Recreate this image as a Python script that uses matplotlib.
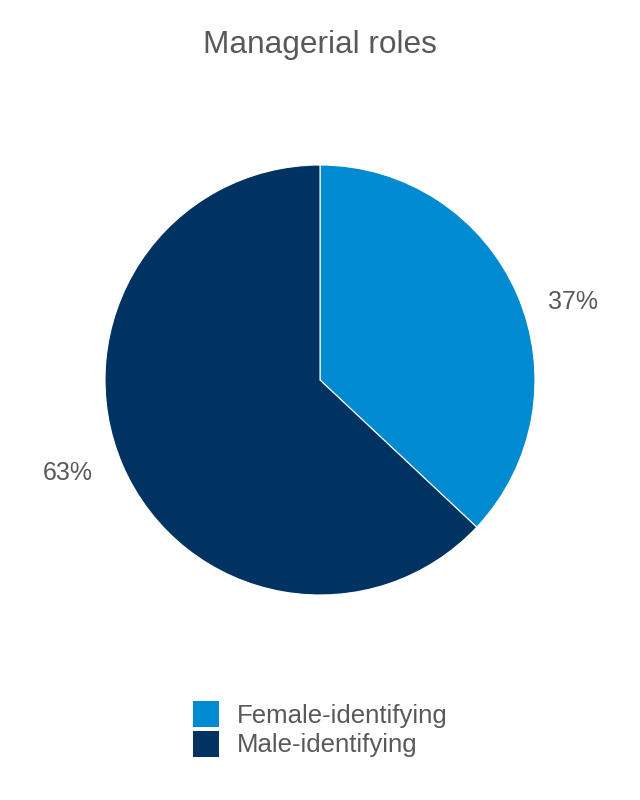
import numpy as np
import matplotlib
matplotlib.use("Agg")
import matplotlib.pyplot as plt
from matplotlib.patches import Patch

categories = ["Female-identifying", "Male-identifying"]
values = [37, 63]
colors = ["#008AD2", "#003361"]
title = "Managerial roles"

plt.rcParams['font.family'] = ['Liberation Sans', 'DejaVu Sans']
text_color = "#595959"

# label placement tweaks (angle offset in degrees, radial distance)
label_angle_offset = [-6.3, -3.2]
label_dist = [1.231, 1.25]

fig = plt.figure(figsize=(6.4, 8), dpi=100)
fig.patch.set_facecolor("white")
ax = fig.add_axes([105/640, 205/800, 430/640, 430/800])
wedges, texts = ax.pie(values, colors=colors, startangle=90, counterclock=False,
                       wedgeprops=dict(linewidth=0.8, edgecolor="white"), radius=1)
total = sum(values)
for w, v, off, d in zip(wedges, values, label_angle_offset, label_dist):
    mid = np.deg2rad((w.theta1 + w.theta2) / 2 + off)
    ax.text(d * np.cos(mid), d * np.sin(mid), f"{100 * v / total:.0f}%",
            ha="center", va="center", fontsize=18, color=text_color)
ax.set_xlim(-1, 1)
ax.set_ylim(-1, 1)
ax.set_aspect("equal")
ax.axis("off")

fig.text(0.5, 1 - 53/800, title, ha="center", va="baseline", fontsize=22.8, color=text_color)

handles = [Patch(facecolor=c, edgecolor="none") for c in colors]
leg = fig.legend(handles, categories, loc="upper left", bbox_to_anchor=(193/640, 1 - 701/800),
                 frameon=False, fontsize=18.5, handlelength=1.01, handleheight=1.18,
                 handletextpad=0.7, labelspacing=0.12, borderpad=0, borderaxespad=0)
for t in leg.get_texts():
    t.set_color(text_color)

fig.savefig("out.png", dpi=100, facecolor="white")
